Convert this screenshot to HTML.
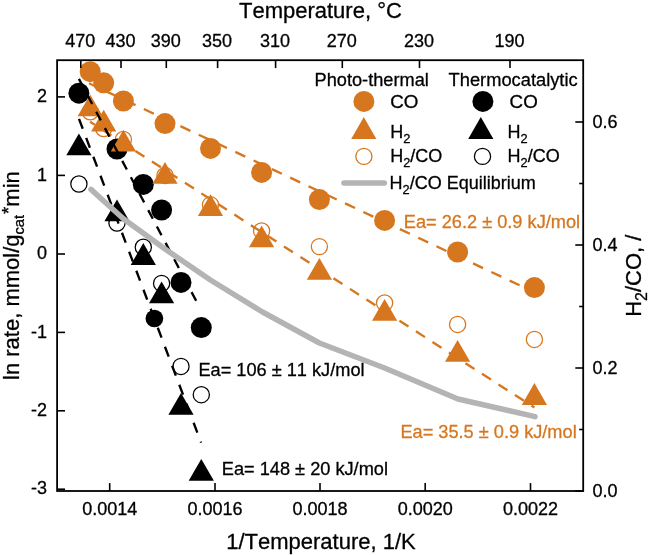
<!DOCTYPE html>
<html lang="en"><head><meta charset="utf-8"><title>Arrhenius plot</title>
<style>html,body{margin:0;padding:0;background:#fff;}svg{display:block;}text{font-kerning:none;paint-order:stroke;stroke-width:0.3px;stroke-linejoin:round;}</style></head>
<body>
<svg width="650" height="555" viewBox="0 0 650 555" font-family="'Liberation Sans', sans-serif">
<rect width="650" height="555" fill="#fff"/>
<g id="open">
<circle cx="78.9" cy="184.0" r="8.1" fill="#fff" stroke="#000000" stroke-width="1.25"/>
<circle cx="117.0" cy="223.0" r="8.1" fill="#fff" stroke="#000000" stroke-width="1.25"/>
<circle cx="143.3" cy="247.2" r="8.1" fill="#fff" stroke="#000000" stroke-width="1.25"/>
<circle cx="161.6" cy="283.4" r="8.1" fill="#fff" stroke="#000000" stroke-width="1.25"/>
<circle cx="181.0" cy="366.4" r="8.1" fill="#fff" stroke="#000000" stroke-width="1.25"/>
<circle cx="201.3" cy="394.7" r="8.1" fill="#fff" stroke="#000000" stroke-width="1.25"/>
<circle cx="90.2" cy="111.8" r="8.1" fill="#fff" stroke="#D6761E" stroke-width="1.25"/>
<circle cx="103.7" cy="128.5" r="8.1" fill="#fff" stroke="#D6761E" stroke-width="1.25"/>
<circle cx="123.4" cy="139.5" r="8.1" fill="#fff" stroke="#D6761E" stroke-width="1.25"/>
<circle cx="165.0" cy="175.5" r="8.1" fill="#fff" stroke="#D6761E" stroke-width="1.25"/>
<circle cx="210.5" cy="204.8" r="8.1" fill="#fff" stroke="#D6761E" stroke-width="1.25"/>
<circle cx="261.6" cy="231.0" r="8.1" fill="#fff" stroke="#D6761E" stroke-width="1.25"/>
<circle cx="319.4" cy="246.6" r="8.1" fill="#fff" stroke="#D6761E" stroke-width="1.25"/>
<circle cx="384.6" cy="303.0" r="8.1" fill="#fff" stroke="#D6761E" stroke-width="1.25"/>
<circle cx="457.6" cy="324.4" r="8.1" fill="#fff" stroke="#D6761E" stroke-width="1.25"/>
<circle cx="534.4" cy="339.4" r="8.1" fill="#fff" stroke="#D6761E" stroke-width="1.25"/>
</g>
<g id="black">
<circle cx="78.9" cy="93.2" r="10.5" fill="#000000"/>
<circle cx="117.0" cy="149.0" r="10.5" fill="#000000"/>
<circle cx="143.3" cy="184.4" r="10.5" fill="#000000"/>
<circle cx="161.6" cy="210.0" r="10.5" fill="#000000"/>
<circle cx="181.0" cy="282.4" r="10.5" fill="#000000"/>
<circle cx="201.3" cy="327.6" r="10.5" fill="#000000"/>
<circle cx="154.4" cy="318.5" r="8.85" fill="#000000"/>
<polygon points="78.9,133.5 66.3,155.3 91.5,155.3" fill="#000000"/>
<polygon points="117.0,199.5 104.4,221.3 129.6,221.3" fill="#000000"/>
<polygon points="143.3,243.1 130.7,264.9 155.9,264.9" fill="#000000"/>
<polygon points="161.6,281.5 149.0,303.3 174.2,303.3" fill="#000000"/>
<polygon points="181.0,392.9 168.4,414.7 193.6,414.7" fill="#000000"/>
<polygon points="201.3,458.9 188.7,480.7 213.9,480.7" fill="#000000"/>
</g>
<g id="orange">
<circle cx="90.2" cy="71.7" r="10.5" fill="#D6761E"/>
<circle cx="103.7" cy="82.8" r="10.5" fill="#D6761E"/>
<circle cx="123.4" cy="101.0" r="10.5" fill="#D6761E"/>
<circle cx="165.0" cy="123.6" r="10.5" fill="#D6761E"/>
<circle cx="210.5" cy="148.4" r="10.5" fill="#D6761E"/>
<circle cx="261.6" cy="172.4" r="10.5" fill="#D6761E"/>
<circle cx="319.4" cy="199.6" r="10.5" fill="#D6761E"/>
<circle cx="384.6" cy="220.4" r="10.5" fill="#D6761E"/>
<circle cx="457.6" cy="252.0" r="10.5" fill="#D6761E"/>
<circle cx="534.4" cy="287.6" r="10.5" fill="#D6761E"/>
<polygon points="90.2,94.4 77.6,116.2 102.8,116.2" fill="#D6761E"/>
<polygon points="103.7,109.7 91.1,131.5 116.3,131.5" fill="#D6761E"/>
<polygon points="123.4,129.8 110.8,151.6 136.0,151.6" fill="#D6761E"/>
<polygon points="165.0,161.9 152.4,183.7 177.6,183.7" fill="#D6761E"/>
<polygon points="210.5,194.2 197.9,216.0 223.1,216.0" fill="#D6761E"/>
<polygon points="261.6,225.5 249.0,247.3 274.2,247.3" fill="#D6761E"/>
<polygon points="319.4,257.9 306.8,279.7 332.0,279.7" fill="#D6761E"/>
<polygon points="384.6,298.9 372.0,320.7 397.2,320.7" fill="#D6761E"/>
<polygon points="457.6,339.9 445.0,361.7 470.2,361.7" fill="#D6761E"/>
<polygon points="534.4,383.1 521.8,404.9 547.0,404.9" fill="#D6761E"/>
</g>
<g fill="none" stroke-width="2.35">
<line x1="89" y1="83.3" x2="534.4" y2="292.2" stroke="#D6761E" stroke-dasharray="11 9.2"/>
<line x1="90.1" y1="121.8" x2="534.4" y2="407.5" stroke="#D6761E" stroke-dasharray="10.7 8.92" stroke-dashoffset="5.0"/>
<line x1="78.9" y1="78.9" x2="197" y2="302.4" stroke="#000000" stroke-dasharray="9.8 8.75"/>
<line x1="79" y1="118.8" x2="201.1" y2="442.6" stroke="#000000" stroke-dasharray="10.6 9.7"/>
</g>
<polyline points="91,189.4 103.7,201 123.4,218.8 165,249 210.4,280 261.6,311.5 319.4,343 384.6,368 458,399 535,416.6" fill="none" stroke="#B4B4B4" stroke-width="5.5" stroke-linecap="round" stroke-linejoin="round"/>
<rect x="57.1" y="60.2" width="526.1" height="430.8" fill="none" stroke="#000" stroke-width="1.8"/>
<g stroke="#000" stroke-width="1.6">
<line x1="109.7" y1="491" x2="109.7" y2="483.1"/>
<line x1="215" y1="491" x2="215" y2="483.1"/>
<line x1="320" y1="491" x2="320" y2="483.1"/>
<line x1="425.2" y1="491" x2="425.2" y2="483.1"/>
<line x1="530.5" y1="491" x2="530.5" y2="483.1"/>
<line x1="80.8" y1="60.2" x2="80.8" y2="68.10000000000001"/>
<line x1="121.0" y1="60.2" x2="121.0" y2="68.10000000000001"/>
<line x1="166.3" y1="60.2" x2="166.3" y2="68.10000000000001"/>
<line x1="217.6" y1="60.2" x2="217.6" y2="68.10000000000001"/>
<line x1="275.6" y1="60.2" x2="275.6" y2="68.10000000000001"/>
<line x1="342.3" y1="60.2" x2="342.3" y2="68.10000000000001"/>
<line x1="419.5" y1="60.2" x2="419.5" y2="68.10000000000001"/>
<line x1="510.0" y1="60.2" x2="510.0" y2="68.10000000000001"/>
<line x1="57.1" y1="96.9" x2="65.0" y2="96.9"/>
<line x1="57.1" y1="175.4" x2="65.0" y2="175.4"/>
<line x1="57.1" y1="254" x2="65.0" y2="254"/>
<line x1="57.1" y1="332.4" x2="65.0" y2="332.4"/>
<line x1="57.1" y1="410.8" x2="65.0" y2="410.8"/>
<line x1="57.1" y1="489.2" x2="65.0" y2="489.2"/>
<line x1="583.2" y1="491.0" x2="575.3000000000001" y2="491.0"/>
<line x1="583.2" y1="429.5" x2="579.2" y2="429.5"/>
<line x1="583.2" y1="368.0" x2="575.3000000000001" y2="368.0"/>
<line x1="583.2" y1="306.5" x2="579.2" y2="306.5"/>
<line x1="583.2" y1="245.0" x2="575.3000000000001" y2="245.0"/>
<line x1="583.2" y1="183.5" x2="579.2" y2="183.5"/>
<line x1="583.2" y1="122.0" x2="575.3000000000001" y2="122.0"/>
</g>
<g font-size="18" fill="#000" stroke="#000">
<text x="109.7" y="514.9" text-anchor="middle">0.0014</text>
<text x="215" y="514.9" text-anchor="middle">0.0016</text>
<text x="320" y="514.9" text-anchor="middle">0.0018</text>
<text x="425.2" y="514.9" text-anchor="middle">0.0020</text>
<text x="530.5" y="514.9" text-anchor="middle">0.0022</text>
<text x="80.3" y="46.7" text-anchor="middle">470</text>
<text x="120.5" y="46.7" text-anchor="middle">430</text>
<text x="165.8" y="46.7" text-anchor="middle">390</text>
<text x="217.1" y="46.7" text-anchor="middle">350</text>
<text x="275.1" y="46.7" text-anchor="middle">310</text>
<text x="341.8" y="46.7" text-anchor="middle">270</text>
<text x="419.0" y="46.7" text-anchor="middle">230</text>
<text x="509.5" y="46.7" text-anchor="middle">190</text>
<text x="47" y="102.1" text-anchor="end">2</text>
<text x="47" y="180.6" text-anchor="end">1</text>
<text x="47" y="259.2" text-anchor="end">0</text>
<text x="47" y="337.6" text-anchor="end">-1</text>
<text x="47" y="416.0" text-anchor="end">-2</text>
<text x="47" y="494.4" text-anchor="end">-3</text>
<text x="592.5" y="496.6">0.0</text>
<text x="592.5" y="373.6">0.2</text>
<text x="592.5" y="250.6">0.4</text>
<text x="592.5" y="127.6">0.6</text>
</g>
<g font-size="22" fill="#000" stroke="#000">
<text x="320.4" y="17.9" text-anchor="middle">Temperature, °C</text>
<text x="321.0" y="548.7" text-anchor="middle">1/Temperature, 1/K</text>
<text transform="translate(18.7,275.6) rotate(-90)" text-anchor="middle" font-size="22">ln rate, mmol/g<tspan font-size="14.7" dy="5">cat</tspan><tspan font-size="18.5" dy="-9" dx="1">*</tspan><tspan dy="4">min</tspan></text>
<text transform="translate(641.3,275.7) rotate(-90)" text-anchor="middle">H<tspan font-size="16" dy="5.5">2</tspan><tspan dy="-5.5">/CO, /</tspan></text>
</g>
<g font-size="18" fill="#000" stroke="#000">
<text x="314.6" y="86" font-size="18.2">Photo-thermal</text>
<text x="448.6" y="86" font-size="18.3">Thermocatalytic</text>
<text x="390.3" y="108.1" font-size="18.8">CO</text>
<text x="390.2" y="137.6">H<tspan font-size="12.8" dy="5">2</tspan><tspan dy="-5"></tspan></text>
<text x="390.2" y="161.6">H<tspan font-size="12.8" dy="5">2</tspan><tspan dy="-5">/CO</tspan></text>
<text x="389.5" y="188.8">H<tspan font-size="12.8" dy="5">2</tspan><tspan dy="-5">/CO Equilibrium</tspan></text>
<text x="509.6" y="108.1" font-size="18.8">CO</text>
<text x="507.5" y="137.6">H<tspan font-size="12.8" dy="5">2</tspan><tspan dy="-5"></tspan></text>
<text x="507.5" y="161.6">H<tspan font-size="12.8" dy="5">2</tspan><tspan dy="-5">/CO</tspan></text>
</g>
<circle cx="363.9" cy="101.4" r="10.5" fill="#D6761E"/>
<polygon points="363.8,117.1 351.2,138.9 376.4,138.9" fill="#D6761E"/>
<circle cx="363.9" cy="156.4" r="8.1" fill="#fff" stroke="#D6761E" stroke-width="1.25"/>
<circle cx="482.9" cy="101.4" r="10.5" fill="#000000"/>
<polygon points="480.8,117.1 468.2,138.9 493.4,138.9" fill="#000000"/>
<circle cx="482.5" cy="156.4" r="8.1" fill="#fff" stroke="#000000" stroke-width="1.25"/>
<line x1="344" y1="183" x2="384.3" y2="183" stroke="#B4B4B4" stroke-width="5.6" stroke-linecap="round"/>
<g font-size="18.2">
<text x="403.8" y="227.6" fill="#D6761E" stroke="#D6761E">Ea= 26.2 ± 0.9 kJ/mol</text>
<text x="400.4" y="438.2" fill="#D6761E" stroke="#D6761E">Ea= 35.5 ± 0.9 kJ/mol</text>
<text x="198.4" y="375.8" fill="#000" stroke="#000">Ea= 106 ± 11 kJ/mol</text>
<text x="221.8" y="474.6" fill="#000" stroke="#000">Ea= 148 ± 20 kJ/mol</text>
</g>
</svg>
</body></html>
